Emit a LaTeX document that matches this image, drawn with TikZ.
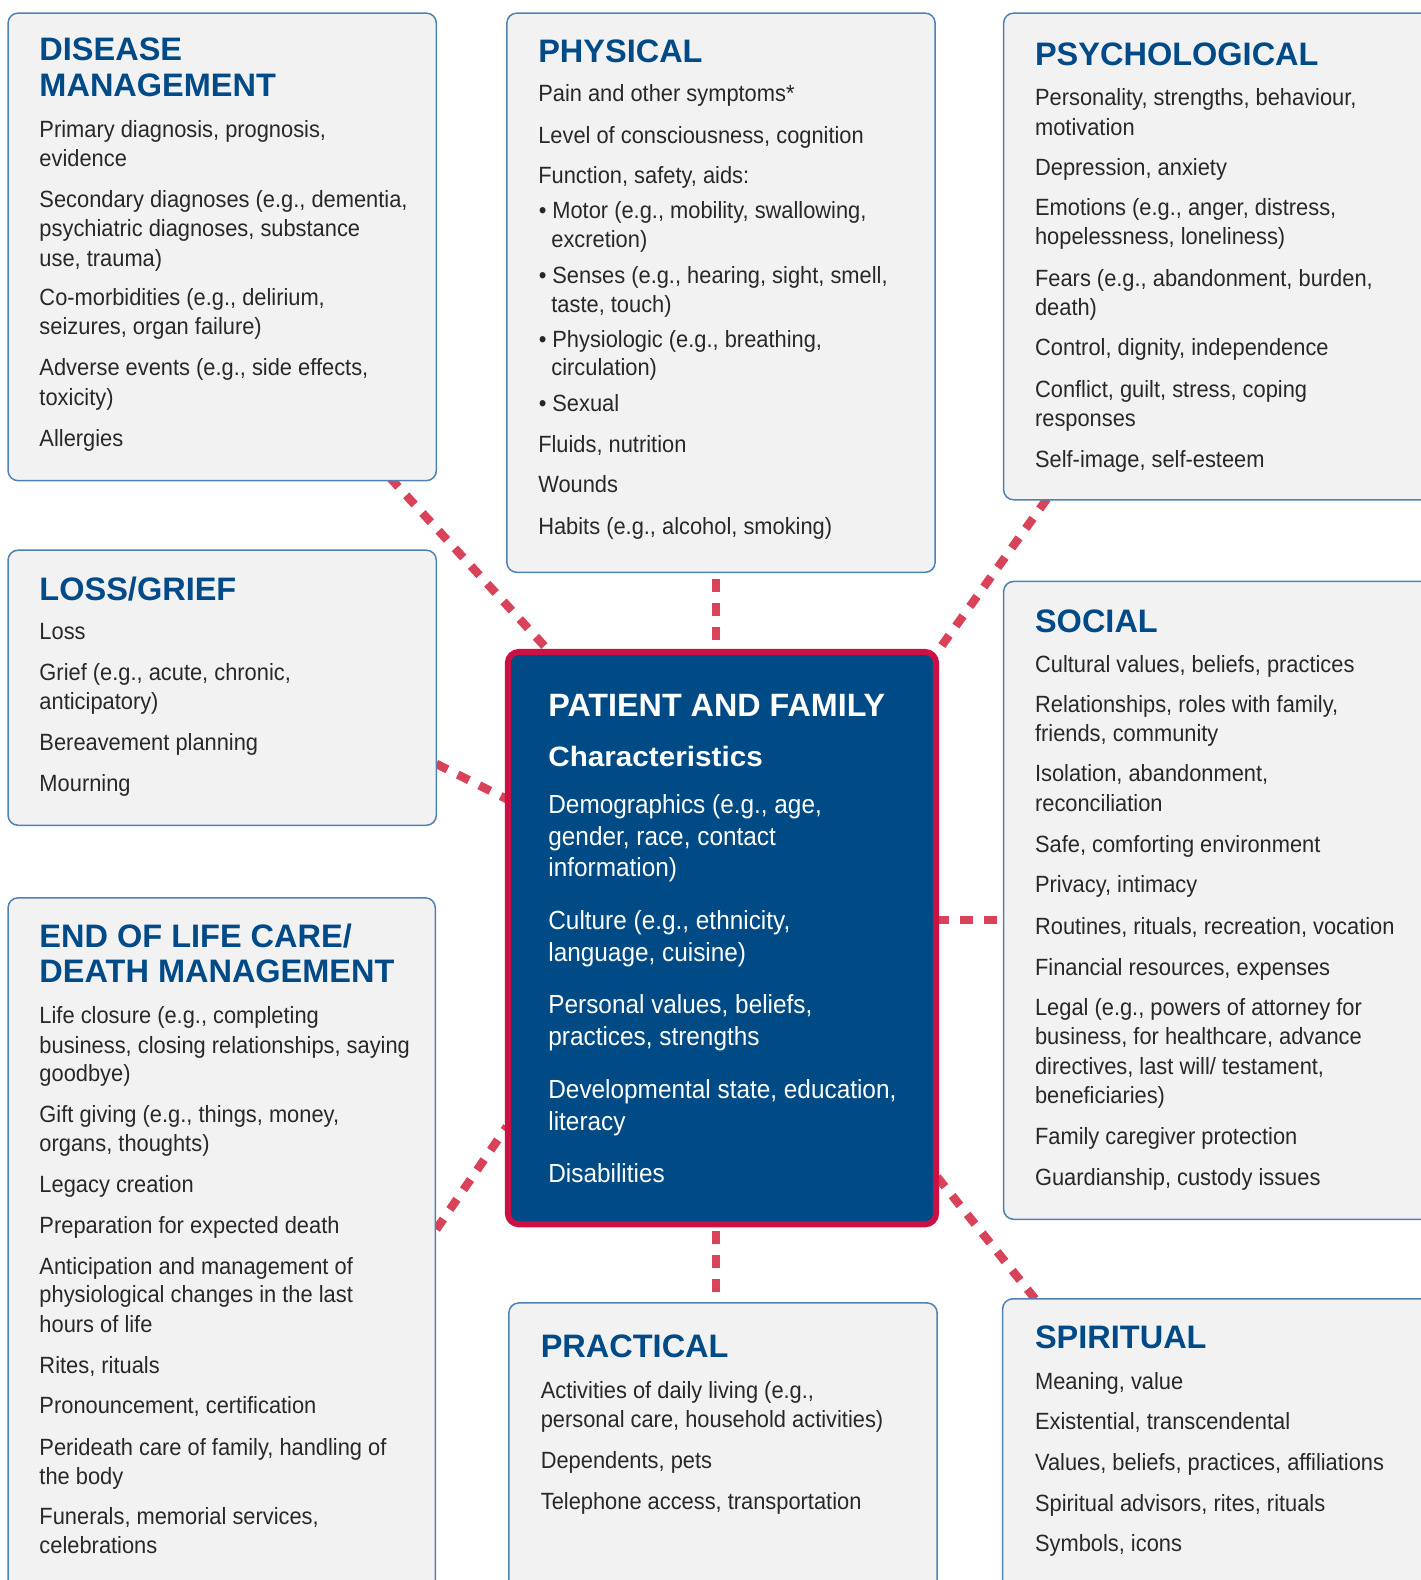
\documentclass[tikz,border=0pt]{standalone}
\usepackage{fontspec}
\setmainfont{Liberation Sans}
\newfontfamily\condf[FakeStretch=0.93]{Liberation Sans}
\newfontfamily\widef[FakeStretch=1.06]{Liberation Sans}
\usetikzlibrary{fit}
\definecolor{hblue}{RGB}{0,74,135}
\definecolor{cblue}{RGB}{0,75,133}
\definecolor{cred}{RGB}{204,16,68}
\definecolor{dred}{RGB}{217,67,90}
\definecolor{bline}{RGB}{79,130,179}
\definecolor{bfill}{RGB}{242,242,242}
\definecolor{btext}{RGB}{40,40,40}
\begin{document}
\begin{tikzpicture}[x=1.0078pt,y=-1.0078pt,
  box/.style={draw=bline, line width=1.5pt, fill=bfill, rounded corners=10pt, inner sep=0pt},
  core/.style={draw=cred, line width=6pt, fill=cblue, rounded corners=11pt, inner sep=0pt},
  link/.style={draw=dred, line width=8.5pt, dash pattern=on 12.5pt off 11.5pt},
  vlink/.style={link, dash phase=17pt},
  head/.style={anchor=base west, inner sep=0pt, text=hblue, font=\fontsize{32.5}{35}\selectfont\bfseries},
  body/.style={anchor=base west, inner sep=0pt, text=btext, font=\condf\fontsize{23.5}{29}\selectfont},
  chead/.style={anchor=base west, inner sep=0pt, text=white, font=\fontsize{32.3}{35}\selectfont\bfseries},
  csub/.style={anchor=base west, inner sep=0pt, text=white, font=\widef\fontsize{28}{32}\selectfont\bfseries},
  cbody/.style={anchor=base west, inner sep=0pt, text=white, font=\condf\fontsize{26.2}{32}\selectfont}
]
\useasboundingbox (0,0) rectangle (1410,1568);
\clip (0,0) rectangle (1410,1568);

% connector end points
\coordinate (dmA) at (387,474);   \coordinate (pfA) at (542,643);
\coordinate (phA) at (710.5,568); \coordinate (pfB) at (710.5,647);
\coordinate (psA) at (1039,495);  \coordinate (pfC) at (933,643);
\coordinate (lgA) at (433,758);   \coordinate (pfD) at (503,793);
\coordinate (soA) at (996,913);   \coordinate (pfE) at (929,913);
\coordinate (elA) at (433,1220);  \coordinate (pfF) at (503,1118);
\coordinate (spA) at (1028,1290); \coordinate (pfG) at (930,1168);
\coordinate (prA) at (710.5,1293);\coordinate (pfH) at (710.5,1215);

\draw[link] (dmA) -- (pfA);
\draw[vlink] (phA) -- (pfB);
\draw[link] (psA) -- (pfC);
\draw[link] (lgA) -- (pfD);
\draw[link] (pfE) -- (soA);
\draw[link] (elA) -- (pfF);
\draw[link] (pfG) -- (spA);
\draw[vlink] (pfH) -- (prA);

% boxes
\node[box, fit={(8,13) (433,477)}] (dm) {};
\node[box, fit={(503,13) (928,568)}] (ph) {};
\node[box, fit={(996,13) (1440,496)}] (ps) {};
\node[box, fit={(8,546) (433,819)}] (lg) {};
\node[box, fit={(996,577) (1440,1210)}] (so) {};
\node[box, fit={(8,891) (432,1600)}] (el) {};
\node[box, fit={(505,1293) (930,1600)}] (pr) {};
\node[box, fit={(995,1289) (1440,1600)}] (sp) {};
\node[core, fit={(504,647) (929,1215)}] (pf) {};

% DISEASE MANAGEMENT
\node[head] (dmh1) at (39,60.5) {DISEASE};
\node[head] (dmh2) at (39,95.5) {MANAGEMENT};
\foreach \y/\txt [count=\i] in {127/{Primary diagnosis, prognosis,}, 156/{evidence},
  197/{Secondary diagnoses (e.g., dementia,}, 226/{psychiatric diagnoses, substance}, 255/{use, trauma)},
  294/{Co-morbidities (e.g., delirium,}, 323/{seizures, organ failure)},
  364/{Adverse events (e.g., side effects,}, 393/{toxicity)}, 434/{Allergies}}
  \node[body, name=dm\i] at (39,\y+9) {\txt};

% PHYSICAL
\node[head] (phh) at (534,62.5) {PHYSICAL};
\foreach \x/\y/\txt [count=\i] in {534/92/{Pain and other symptoms*}, 534/133/{Level of consciousness, cognition},
  534/173/{Function, safety, aids:},
  548/208/{\llap{•\hspace{6pt}}Motor (e.g., mobility, swallowing,}, 547/237/{excretion)},
  548/272/{\llap{•\hspace{6pt}}Senses (e.g., hearing, sight, smell,}, 547/301/{taste, touch)},
  548/336/{\llap{•\hspace{6pt}}Physiologic (e.g., breathing,}, 547/364/{circulation)},
  548/399/{\llap{•\hspace{6pt}}Sexual},
  534/440/{Fluids, nutrition}, 534/480/{Wounds}, 534/521/{Habits (e.g., alcohol, smoking)}}
  \node[body, name=ph\i] at (\x,\y+9) {\txt};

% PSYCHOLOGICAL
\node[head] (psh) at (1027,65) {PSYCHOLOGICAL};
\foreach \y/\txt [count=\i] in {96/{Personality, strengths, behaviour,}, 125/{motivation},
  165/{Depression, anxiety}, 205/{Emotions (e.g., anger, distress,}, 234/{hopelessness, loneliness)},
  275/{Fears (e.g., abandonment, burden,}, 304/{death)}, 344/{Control, dignity, independence},
  385/{Conflict, guilt, stress, coping}, 414/{responses}, 455/{Self-image, self-esteem}}
  \node[body, name=ps\i] at (1027,\y+9) {\txt};

% LOSS/GRIEF
\node[head] (lgh) at (39,595.5) {LOSS/GRIEF};
\foreach \y/\txt [count=\i] in {626/{Loss}, 666/{Grief (e.g., acute, chronic,}, 695/{anticipatory)},
  736/{Bereavement planning}, 776/{Mourning}}
  \node[body, name=lg\i] at (39,\y+9) {\txt};

% SOCIAL
\node[head] (soh) at (1027,627.5) {SOCIAL};
\foreach \y/\txt [count=\i] in {658/{Cultural values, beliefs, practices},
  698/{Relationships, roles with family,}, 727/{friends, community},
  767/{Isolation, abandonment,}, 796/{reconciliation},
  837/{Safe, comforting environment}, 877/{Privacy, intimacy},
  918/{Routines, rituals, recreation, vocation}, 959/{Financial resources, expenses},
  999/{Legal (e.g., powers of attorney for}, 1028/{business, for healthcare, advance},
  1057/{directives, last will/ testament,}, 1086/{beneficiaries)},
  1127/{Family caregiver protection}, 1167/{Guardianship, custody issues}}
  \node[body, name=so\i] at (1027,\y+9) {\txt};

% END OF LIFE CARE
\node[head] (elh1) at (39,940.5) {END OF LIFE CARE/};
\node[head] (elh2) at (39,975.5) {DEATH MANAGEMENT};
\foreach \y/\txt [count=\i] in {1007/{Life closure (e.g., completing},
  1036/{business, closing relationships, saying}, 1064/{goodbye)},
  1105/{Gift giving (e.g., things, money,}, 1134/{organs, thoughts)},
  1174/{Legacy creation}, 1215/{Preparation for expected death},
  1256/{Anticipation and management of}, 1284/{physiological changes in the last}, 1313/{hours of life},
  1354/{Rites, rituals}, 1394/{Pronouncement, certification},
  1435/{Perideath care of family, handling of}, 1464/{the body},
  1504/{Funerals, memorial services,}, 1533/{celebrations}}
  \node[body, name=el\i] at (39,\y+9) {\txt};

% PRACTICAL
\node[head] (prh) at (536.5,1347.5) {PRACTICAL};
\foreach \y/\txt [count=\i] in {1379/{Activities of daily living (e.g.,},
  1408/{personal care, household activities)}, 1448/{Dependents, pets},
  1489/{Telephone access, transportation}}
  \node[body, name=pr\i] at (536.5,\y+9) {\txt};

% SPIRITUAL
\node[head] (sph) at (1027,1338.5) {SPIRITUAL};
\foreach \y/\txt [count=\i] in {1370/{Meaning, value}, 1410/{Existential, transcendental},
  1450/{Values, beliefs, practices, affiliations}, 1491/{Spiritual advisors, rites, rituals},
  1531/{Symbols, icons}}
  \node[body, name=sp\i] at (1027,\y+9) {\txt};

% PATIENT AND FAMILY
\node[chead] (pfh) at (544,711.5) {PATIENT AND FAMILY};
\node[csub] (pfs) at (544,761) {Characteristics};
\foreach \y/\txt [count=\i] in {798/{Demographics (e.g., age,}, 830/{gender, race, contact},
  861/{information)}, 913/{Culture (e.g., ethnicity,}, 945/{language, cuisine)},
  997/{Personal values, beliefs,}, 1029/{practices, strengths},
  1081/{Developmental state, education,}, 1113/{literacy}, 1165/{Disabilities}}
  \node[cbody, name=pf\i] at (544,\y+9) {\txt};
\end{tikzpicture}
\end{document}
